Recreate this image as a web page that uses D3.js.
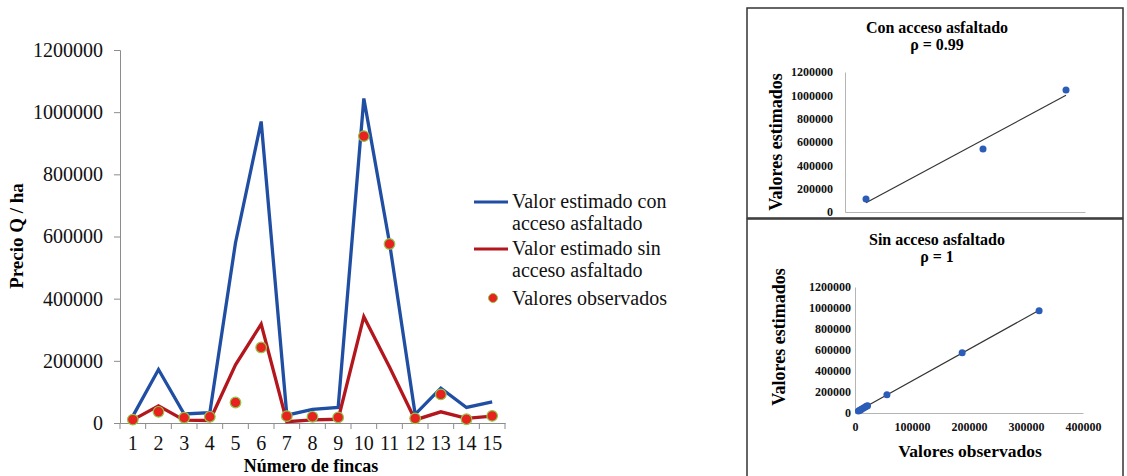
<!DOCTYPE html>
<html lang="es">
<head>
<meta charset="UTF-8" />
<title>Precio Q / ha</title>
<script src="https://cdn.jsdelivr.net/npm/d3@7"></script>
<style>
  body { margin: 0; background: #fff; }
  svg { display: block; font-family: "Liberation Serif", "Times New Roman", serif; }
  .axis path, .axis line { stroke: #8c8c8c; }
  .sc path { stroke: #b5b5b5; }
</style>
</head>
<body>
<div class="chart"></div>
<script>
// main chart data
const fincas = ["1","2","3","4","5","6","7","8","9","10","11","12","13","14","15"];
const conAcceso = [22000, 172000, 29000, 33000, 580000, 970000, 25000, 44000, 50000, 1044000, 580000, 28000, 112000, 50000, 68000];
const sinAcceso = [10000, 55000, 9000, 8000, 187000, 318000, 4000, 10000, 12000, 342000, 180000, 10000, 36000, 15000, 22000];
const observados = [11000, 36000, 17000, 20000, 66000, 243000, 22000, 20000, 18000, 923000, 576000, 15000, 92000, 12000, 23000];
const yTicks = [0, 200000, 400000, 600000, 800000, 1000000, 1200000];

// scatter with asphalt access (observed, estimated)
const conObs = [105000, 690000, 1105000];
const conEst = [111000, 540000, 1046000];
// scatter without asphalt access
const sinObs = [6000, 8000, 10000, 12000, 15000, 18000, 20000, 22000, 56000, 188000, 323000];
const sinEst = [18000, 24000, 30000, 38000, 48000, 58000, 64000, 70000, 175000, 575000, 975000];
const scXTicks = [0, 100000, 200000, 300000, 400000];

const width = 1127, height = 476;
const svg = d3.select(".chart").append("svg")
  .attr("width", width).attr("height", height);

const x = d3.scaleBand().domain(fincas).range([120, 505]);
const y = d3.scaleLinear().domain([0, 1200000]).range([423, 50]);

svg.append("g").attr("class", "axis")
  .attr("transform", "translate(120,0)")
  .call(d3.axisLeft(y).tickValues(yTicks).tickSize(6).tickPadding(11).tickFormat(d => d))
  .call(g => g.selectAll("text").attr("font-size", 20).attr("fill", "#111").attr("font-family", "Liberation Serif"));

const xg = svg.append("g").attr("class", "axis")
  .attr("transform", "translate(0,423)")
  .call(d3.axisBottom(x).tickSize(0).tickPadding(13))
  .call(g => g.selectAll("text").attr("font-size", 20).attr("fill", "#111").attr("font-family", "Liberation Serif"));
xg.selectAll(".sep")
  .data(fincas.map(d => x(d)).concat([x.range()[1]]))
  .enter().append("line")
  .attr("x1", d => d).attr("x2", d => d)
  .attr("y1", 0).attr("y2", 6)
  .attr("stroke", "#8c8c8c");

const line = d3.line().x((d, i) => x(fincas[i]) + x.bandwidth() / 2).y(d => y(d));
svg.append("path").datum(conAcceso).attr("d", line)
  .attr("fill", "none").attr("stroke", "#1f4ea3").attr("stroke-width", 3.3);
svg.append("path").datum(sinAcceso).attr("d", line)
  .attr("fill", "none").attr("stroke", "#b3161d").attr("stroke-width", 3.3);
svg.selectAll(".obs").data(observados).enter().append("circle")
  .attr("cx", (d, i) => x(fincas[i]) + x.bandwidth() / 2)
  .attr("cy", d => y(d)).attr("r", 5.3)
  .attr("fill", "#e8231f").attr("stroke", "#8cc84b").attr("stroke-width", 1.2);

svg.append("text").attr("transform", "translate(23,236) rotate(-90)")
  .attr("text-anchor", "middle").attr("font-size", 19).attr("font-weight", "bold")
  .text("Precio Q / ha");
svg.append("text").attr("x", 311).attr("y", 472)
  .attr("text-anchor", "middle").attr("font-size", 18).attr("font-weight", "bold")
  .text("Número de fincas");

// legend
const lg = svg.append("g").attr("font-size", 20).attr("fill", "#111");
const legendItems = [
  { color: "#1f4ea3", lines: ["Valor estimado con", "acceso asfaltado"], y: 202 },
  { color: "#b3161d", lines: ["Valor estimado sin", "acceso asfaltado"], y: 249 }
];
legendItems.forEach(it => {
  lg.append("line").attr("x1", 474).attr("x2", 508).attr("y1", it.y).attr("y2", it.y)
    .attr("stroke", it.color).attr("stroke-width", 3);
  it.lines.forEach((t, k) => {
    lg.append("text").attr("x", 512).attr("y", it.y + 6 + k * 21.5).text(t);
  });
});
lg.append("circle").attr("cx", 493).attr("cy", 298).attr("r", 4.5)
  .attr("fill", "#e8231f").attr("stroke", "#8cc84b").attr("stroke-width", 1);
lg.append("text").attr("x", 512).attr("y", 305).text("Valores observados");

// scatter panels
function scatter(cfg) {
  svg.append("rect").attr("x", cfg.box[0]).attr("y", cfg.box[1])
    .attr("width", cfg.box[2]).attr("height", cfg.box[3])
    .attr("fill", "none").attr("stroke", "#333").attr("stroke-width", 1.5);
  cfg.title.forEach((t, k) => {
    svg.append("text").attr("x", 937).attr("y", cfg.titleY + k * 16.5)
      .attr("text-anchor", "middle").attr("font-size", 16).attr("font-weight", "bold").text(t);
  });
  const sx = d3.scaleLinear().domain(cfg.xDomain).range(cfg.xRange);
  const sy = d3.scaleLinear().domain([0, 1200000]).range(cfg.yRange);
  svg.append("g").attr("class", "axis sc")
    .attr("transform", `translate(${cfg.xRange[0]},0)`)
    .call(d3.axisLeft(sy).tickValues(yTicks).tickSize(0).tickPadding(cfg.yPad).tickFormat(d => d))
    .call(g => g.selectAll("text").attr("font-size", 12).attr("font-weight", "bold").attr("fill", "#111").attr("font-family", "Liberation Serif"));
  svg.append("g").attr("class", "axis sc")
    .attr("transform", `translate(0,${cfg.yRange[0]})`)
    .call(d3.axisBottom(sx).tickValues(cfg.xTicks).tickSize(0).tickPadding(9).tickFormat(d => d))
    .call(g => g.selectAll("text").attr("font-size", 12).attr("font-weight", "bold").attr("fill", "#111").attr("font-family", "Liberation Serif"));
  // least squares trend line
  const mx = d3.mean(cfg.obs), my = d3.mean(cfg.est);
  const b = d3.sum(cfg.obs, (v, i) => (v - mx) * (cfg.est[i] - my)) / d3.sum(cfg.obs, v => (v - mx) ** 2);
  const a = my - b * mx;
  const [x0, x1] = d3.extent(cfg.obs);
  svg.append("line")
    .attr("x1", sx(x0)).attr("y1", sy(a + b * x0))
    .attr("x2", sx(x1)).attr("y2", sy(a + b * x1))
    .attr("stroke", "#333").attr("stroke-width", 1.2);
  svg.append("g").selectAll("circle").data(cfg.obs).enter().append("circle")
    .attr("cx", d => sx(d)).attr("cy", (d, i) => sy(cfg.est[i])).attr("r", 3.5)
    .attr("fill", "#2b5cb8");
  svg.append("text").attr("transform", `translate(${cfg.yTitleX},${cfg.yTitleY}) rotate(-90)`)
    .attr("text-anchor", "middle").attr("font-size", 18).attr("font-weight", "bold")
    .text("Valores estimados");
  if (cfg.xTitle) {
    svg.append("text").attr("x", 970).attr("y", 457).attr("text-anchor", "middle")
      .attr("font-size", 17.5).attr("font-weight", "bold").text(cfg.xTitle);
  }
}

scatter({
  box: [747, 8, 376, 210], title: ["Con acceso asfaltado", "ρ = 0.99"], titleY: 33,
  xDomain: [0, 1200000], xRange: [845, 1085], yRange: [212, 72], yPad: 12, xTicks: [],
  obs: conObs, est: conEst, yTitleX: 782, yTitleY: 142
});
scatter({
  box: [747, 219, 376, 270], title: ["Sin acceso asfaltado", "ρ = 1"], titleY: 245,
  xDomain: [0, 400000], xRange: [855, 1083], yRange: [413, 287], yPad: 4, xTicks: scXTicks,
  obs: sinObs, est: sinEst, yTitleX: 785, yTitleY: 337, xTitle: "Valores observados"
});
</script>
</body>
</html>
